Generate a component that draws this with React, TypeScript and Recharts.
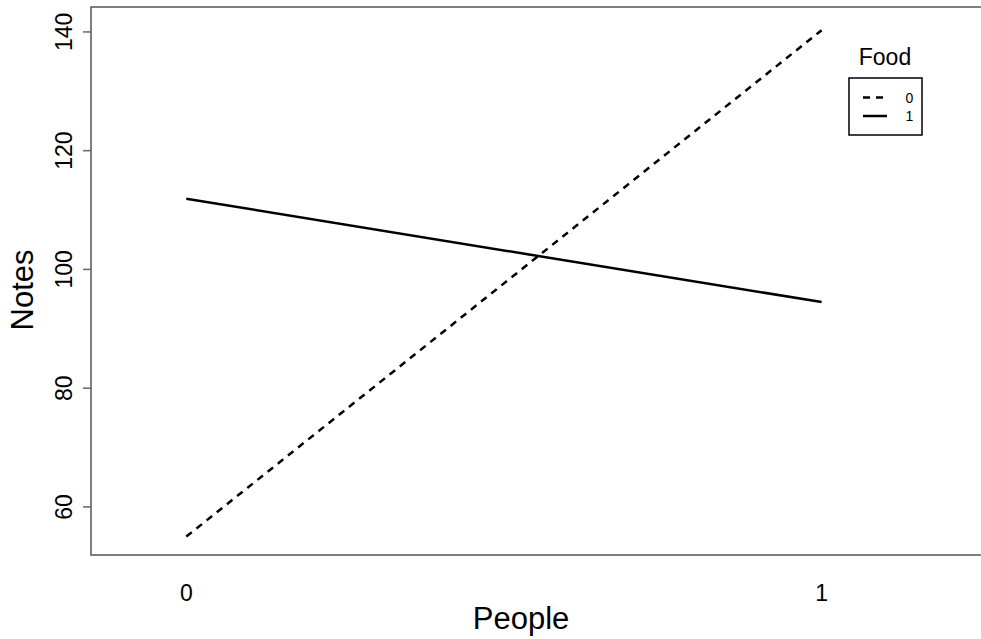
import { LineChart, Line, XAxis, YAxis, ReferenceArea, Label } from 'recharts';

// interaction plot: Notes by People, one line per Food level
const people = [0, 1];
const food0 = [55, 140.3];
const food1 = [111.9, 94.5];
const yTicks = [60, 80, 100, 120, 140];
const xTicks = [0, 1];
const foodLevels = ['0', '1'];

const data = people.map((p, i) => ({ people: p, food0: food0[i], food1: food1[i] }));

const FONT = '"Liberation Sans", Arial, Helvetica, sans-serif';
const xDomain = [-0.15, 1.35];
const yDomain = [51.9, 144.2];

const YTick = (props: any) => {
  const { y, payload } = props;
  return (
    <text x={72} y={y} transform={`rotate(-90, 72, ${y})`} textAnchor="middle"
      fontSize={23} fontFamily={FONT} fill="#000">
      {payload.value}
    </text>
  );
};

const XTick = (props: any) => {
  const { x, payload } = props;
  return (
    <text x={x} y={601} textAnchor="middle" fontSize={23} fontFamily={FONT} fill="#000">
      {payload.value}
    </text>
  );
};

// legend drawn in its own box like R's interaction.plot
const FoodLegend = () => (
  <svg width={100} height={110} style={{ display: 'block' }}>
    <text x={50} y={35} textAnchor="middle" fontSize={23} fontFamily={FONT} fill="#000">Food</text>
    <rect x={14} y={48} width={73} height={57} fill="none" stroke="#000" strokeWidth={1.5} />
    {foodLevels.map((lvl, i) => (
      <g key={lvl}>
        <line x1={28} x2={52} y1={67.5 + i * 18.5} y2={67.5 + i * 18.5} stroke="#000" strokeWidth={2.5}
          strokeDasharray={i === 0 ? '7 6' : undefined} />
        <text x={74.5} y={72.5 + i * 18.5} textAnchor="middle" fontSize={14} fontFamily={FONT} fill="#000">{lvl}</text>
      </g>
    ))}
  </svg>
);

export default function App() {
  return (
    <div style={{ position: 'absolute', left: 0, top: 0, width: 981, height: 639, overflow: 'hidden', background: '#fff' }}>
      <LineChart width={1044} height={639} data={data} margin={{ top: 7, right: 0, bottom: 0, left: 0 }}>
        <XAxis dataKey="people" type="number" domain={xDomain} ticks={xTicks} height={84}
          axisLine={false} tickLine={false} tick={<XTick />} allowDataOverflow>
          <Label content={() => (
            <text x={521} y={629} textAnchor="middle" fontSize={31} fontFamily={FONT} fill="#000">People</text>
          )} />
        </XAxis>
        <YAxis type="number" domain={yDomain} ticks={yTicks} width={91} axisLine={false}
          tickLine={{ stroke: '#666', strokeWidth: 1.5 }} tickSize={8} tick={<YTick />} allowDataOverflow>
          <Label content={() => (
            <text x={33} y={290} transform="rotate(-90, 33, 290)" textAnchor="middle" fontSize={31}
              fontFamily={FONT} fill="#000">Notes</text>
          )} />
        </YAxis>
        <ReferenceArea x1={xDomain[0]} x2={xDomain[1]} y1={yDomain[0]} y2={yDomain[1]}
          fill="none" stroke="#555" strokeWidth={1.5} ifOverflow="visible" />
        <Line dataKey="food0" stroke="#000" strokeWidth={2.5} strokeDasharray="7 6" dot={false}
          isAnimationActive={false} />
        <Line dataKey="food1" stroke="#000" strokeWidth={2.5} dot={false} isAnimationActive={false} />
      </LineChart>
      <div style={{ position: 'absolute', left: 835, top: 30 }}>
        <FoodLegend />
      </div>
    </div>
  );
}
